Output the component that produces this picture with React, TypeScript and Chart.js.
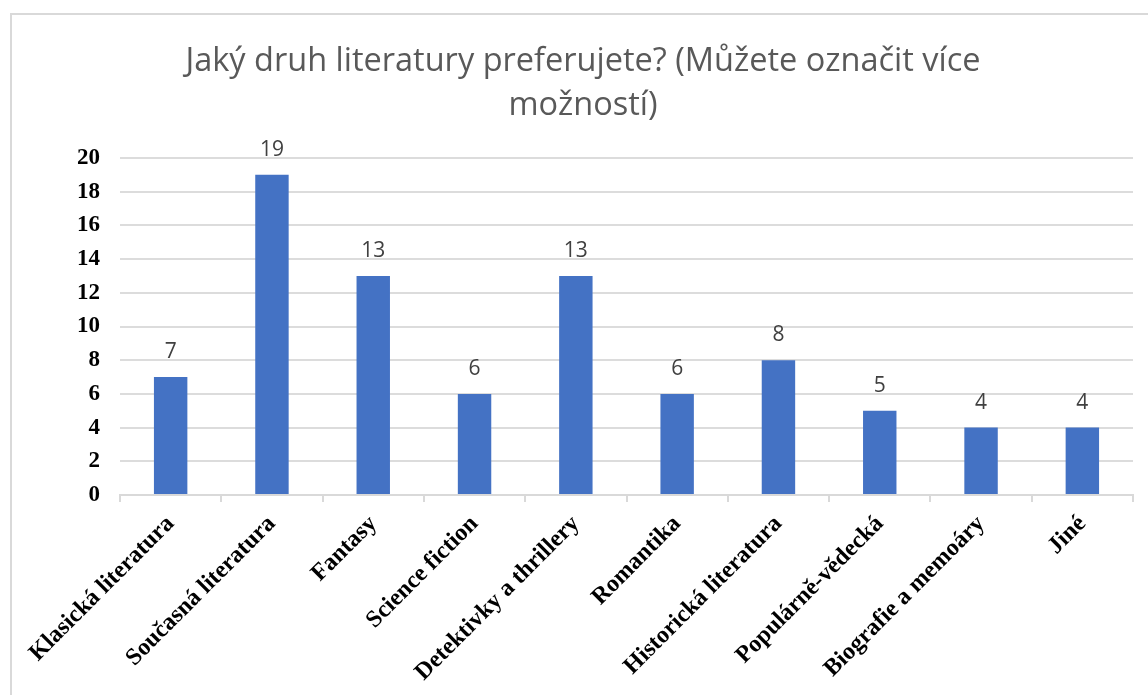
import React, { useEffect, useRef } from "react";
import { Chart, registerables } from "chart.js";

Chart.register(...registerables);

const titleLines = ["Jaký druh literatury preferujete? (Můžete označit více", "možností)"];
const categories = [
  "Klasická literatura",
  "Současná literatura",
  "Fantasy",
  "Science fiction",
  "Detektivky a thrillery",
  "Romantika",
  "Historická literatura",
  "Populárně-vědecká",
  "Biografie a memoáry",
  "Jiné",
];
const values = [7, 19, 13, 6, 13, 6, 8, 5, 4, 4];
const yMin = 0;
const yMax = 20;
const yStep = 2;

const titlePlugin = {
  id: "customTitle",
  afterDraw(chart: any) {
    const { ctx, width } = chart;
    ctx.save();
    ctx.fillStyle = "#595959";
    ctx.font = "32.5px 'Open Sans'";
    ctx.textAlign = "center";
    ctx.textBaseline = "middle";
    titleLines.forEach((line, i) => {
      ctx.fillText(line, width / 2 + 3, 47 + i * 44);
    });
    ctx.restore();
  },
};

const dataLabelPlugin = {
  id: "dataLabels",
  afterDatasetsDraw(chart: any) {
    const { ctx } = chart;
    const meta = chart.getDatasetMeta(0);
    ctx.save();
    ctx.fillStyle = "#404040";
    ctx.font = "21px 'Open Sans'";
    ctx.textAlign = "center";
    ctx.textBaseline = "alphabetic";
    meta.data.forEach((bar: any, i: number) => {
      ctx.fillText(String(values[i]), bar.x, bar.y - 19);
    });
    ctx.restore();
  },
};

export default function App() {
  const canvasRef = useRef<HTMLCanvasElement | null>(null);

  useEffect(() => {
    if (!canvasRef.current) return;
    const chart = new Chart(canvasRef.current, {
      type: "bar",
      data: {
        labels: categories,
        datasets: [
          {
            data: values,
            backgroundColor: "#4472C4",
            barPercentage: 0.33,
            categoryPercentage: 1,
          },
        ],
      },
      options: {
        animation: false,
        responsive: false,
        maintainAspectRatio: false,
        layout: { padding: { top: 143, right: 15, left: 0, bottom: 0 } },
        plugins: {
          legend: { display: false },
          title: { display: false },
          tooltip: { enabled: false },
        },
        scales: {
          x: {
            grid: {
              offset: true,
              drawOnChartArea: false,
              drawTicks: true,
              tickLength: 7,
              color: "#d9d9d9",
              lineWidth: 2,
            },
            border: { display: true, color: "#d9d9d9", width: 2 },
            ticks: {
              autoSkip: false,
              maxRotation: 45,
              minRotation: 45,
              color: "#000000",
              padding: 8,
              font: { family: "'Liberation Serif'", size: 24, weight: "bold" },
            },
            afterFit(scale: any) {
              scale.height = 200;
            },
          },
          y: {
            min: yMin,
            max: yMax,
            grid: { color: "#dcdcdc", lineWidth: 2, drawTicks: false },
            border: { display: false },
            ticks: {
              stepSize: yStep,
              padding: 20,
              color: "#000000",
              font: { family: "'Liberation Serif'", size: 23, weight: "bold" },
            },
            afterFit(scale: any) {
              scale.width = 108;
            },
          },
        },
      },
      plugins: [titlePlugin, dataLabelPlugin],
    });
    return () => chart.destroy();
  }, []);

  return (
    <div
      style={{
        position: "fixed",
        left: 10,
        top: 13,
        width: 1140,
        height: 690,
        border: "2px solid #d9d9d9",
        background: "#ffffff",
      }}
    >
      <canvas ref={canvasRef} width={1136} height={680} style={{ display: "block" }} />
    </div>
  );
}
